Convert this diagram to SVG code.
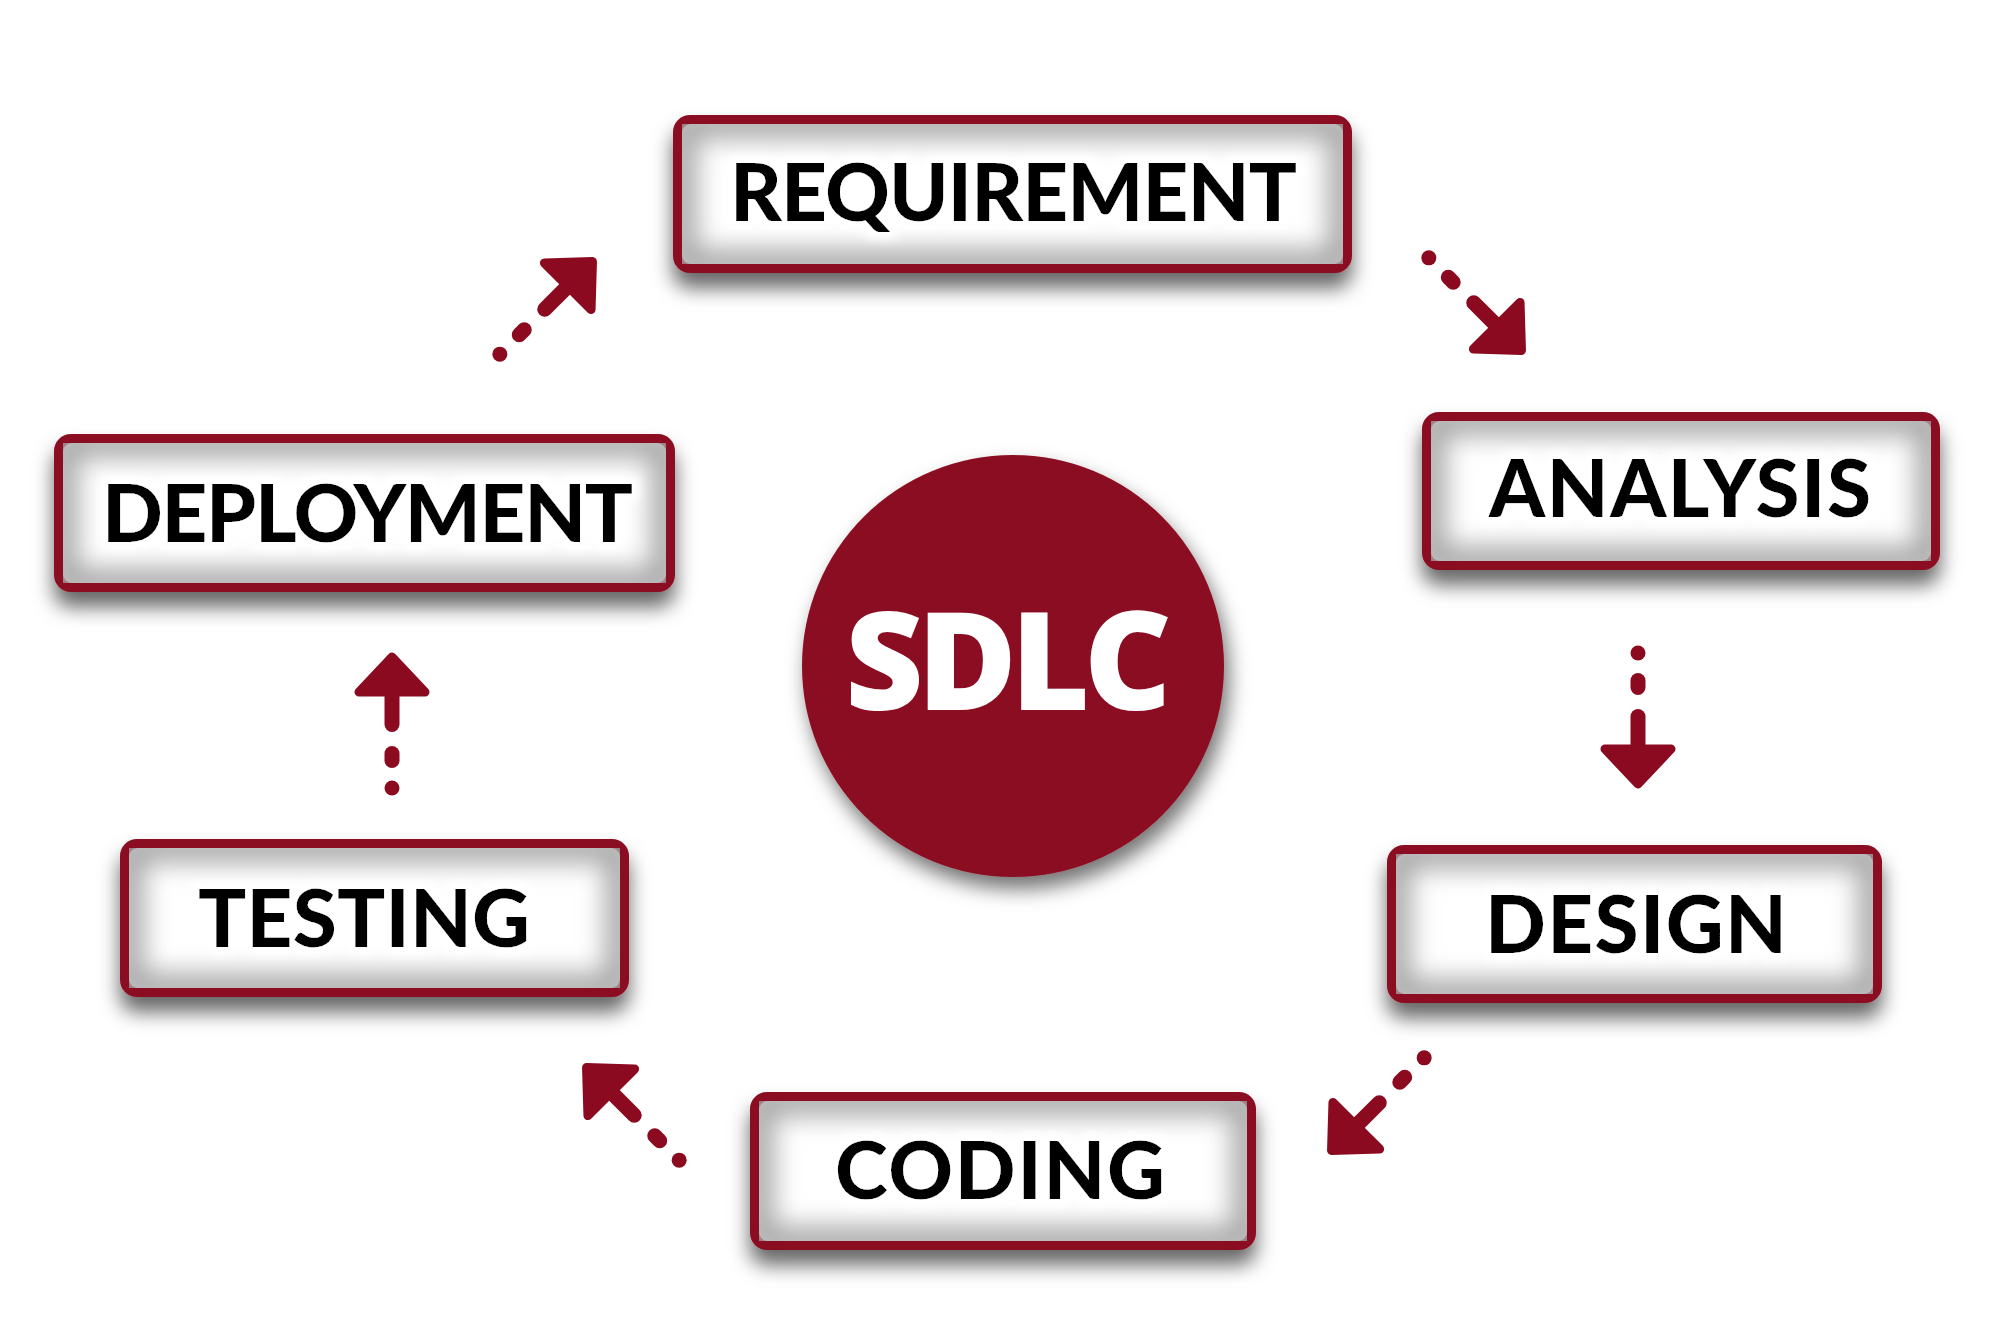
<svg xmlns="http://www.w3.org/2000/svg" xmlns:xlink="http://www.w3.org/1999/xlink" width="2000" height="1331" viewBox="0 0 2000 1331">
  <style>
    .frame { fill: #8B0A20; filter: url(#drop); }
    .inner { fill: #ffffff; }
    .glow { fill: none; stroke: #a8a8a8; stroke-width: 30; filter: url(#soft); clip-path: url(#bbclip); }
    .label { font-family: Lato, "Liberation Sans", sans-serif; font-weight: 900; font-size: 80px; fill: #000; text-anchor: middle; filter: url(#halo); }
    .hub { fill: #8B0A20; filter: url(#cdrop); }
    .hubtext { font-family: "Open Sans", "Liberation Sans", sans-serif; font-weight: 800; font-size: 136px; fill: #fff; text-anchor: middle; }
    .arrow { fill: #8B0A20; stroke: #8B0A20; }
    .seg { stroke-width: 15; stroke-linecap: round; fill: none; }
    .head { stroke-width: 9; stroke-linejoin: round; }
  </style>
  <defs>
    <clipPath id="bbclip" clipPathUnits="objectBoundingBox">
      <rect x="0" y="0" width="1" height="1"/>
    </clipPath>
    <filter id="soft" x="-10%" y="-25%" width="120%" height="150%">
      <feGaussianBlur stdDeviation="13"/>
    </filter>
    <filter id="drop" x="-10%" y="-20%" width="120%" height="150%">
      <feDropShadow dx="0" dy="15" stdDeviation="10" flood-color="#000" flood-opacity="0.6"/>
    </filter>
    <filter id="cdrop" x="-20%" y="-20%" width="140%" height="145%">
      <feDropShadow dx="5" dy="12" stdDeviation="10" flood-color="#000" flood-opacity="0.55"/>
    </filter>
    <filter id="halo" x="-10%" y="-30%" width="120%" height="160%">
      <feMorphology in="SourceAlpha" operator="dilate" radius="7" result="d"/>
      <feGaussianBlur in="d" stdDeviation="4" result="b"/>
      <feFlood flood-color="#ffffff" result="w"/>
      <feComposite in="w" in2="b" operator="in" result="wb"/>
      <feMerge><feMergeNode in="wb"/><feMergeNode in="SourceGraphic"/></feMerge>
    </filter>
    <g id="arr">
      <circle cx="-136" cy="0" r="7.5" stroke="none"/>
      <line class="seg" x1="-108.5" y1="0" x2="-101.5" y2="0"/>
      <line class="seg" x1="-72.5" y1="0" x2="-38" y2="0"/>
      <path class="head" d="M-5,0 L-40,-33 L-40,33 Z"/>
    </g>
  </defs>

  <rect width="2000" height="1331" fill="#ffffff"/>

  <g id="connectors" class="arrow">
    <use xlink:href="#arr" transform="translate(1525,354) rotate(45)"/>
    <use xlink:href="#arr" transform="translate(1638,789) rotate(90)"/>
    <use xlink:href="#arr" transform="translate(1328,1154) rotate(135)"/>
    <use xlink:href="#arr" transform="translate(583,1064) rotate(225)"/>
    <use xlink:href="#arr" transform="translate(392,652) rotate(270)"/>
    <use xlink:href="#arr" transform="translate(596,258) rotate(315)"/>
  </g>

  <g id="node-sdlc">
    <circle class="hub" cx="1013" cy="666" r="211"/>
    <text class="hubtext" x="1008.5" y="710" textLength="327" lengthAdjust="spacing">SDLC</text>
  </g>

  <g id="node-requirement">
    <rect class="frame" x="673" y="115" width="679" height="158" rx="17"/>
    <rect class="inner" x="682" y="124" width="661" height="140" rx="9"/>
    <rect class="glow" x="682" y="124" width="661" height="140" rx="9"/>
    <text class="label" x="1013.5" y="221" textLength="567" lengthAdjust="spacing">REQUIREMENT</text>
  </g>

  <g id="node-analysis">
    <rect class="frame" x="1422" y="412" width="518" height="158" rx="17"/>
    <rect class="inner" x="1431" y="421" width="500" height="140" rx="9"/>
    <rect class="glow" x="1431" y="421" width="500" height="140" rx="9"/>
    <text class="label" x="1680" y="517" textLength="382" lengthAdjust="spacing">ANALYSIS</text>
  </g>

  <g id="node-design">
    <rect class="frame" x="1387" y="845" width="495" height="158" rx="17"/>
    <rect class="inner" x="1396" y="854" width="477" height="140" rx="9"/>
    <rect class="glow" x="1396" y="854" width="477" height="140" rx="9"/>
    <text class="label" x="1636" y="953" textLength="302" lengthAdjust="spacing">DESIGN</text>
  </g>

  <g id="node-coding">
    <rect class="frame" x="750" y="1092" width="506" height="158" rx="17"/>
    <rect class="inner" x="759" y="1101" width="488" height="140" rx="9"/>
    <rect class="glow" x="759" y="1101" width="488" height="140" rx="9"/>
    <text class="label" x="1000" y="1199" textLength="330" lengthAdjust="spacing">CODING</text>
  </g>

  <g id="node-testing">
    <rect class="frame" x="120" y="839" width="509" height="158" rx="17"/>
    <rect class="inner" x="129" y="848" width="491" height="140" rx="9"/>
    <rect class="glow" x="129" y="848" width="491" height="140" rx="9"/>
    <text class="label" x="364" y="947" textLength="332" lengthAdjust="spacing">TESTING</text>
  </g>

  <g id="node-deployment">
    <rect class="frame" x="54" y="434" width="621" height="158" rx="17"/>
    <rect class="inner" x="63" y="443" width="603" height="140" rx="9"/>
    <rect class="glow" x="63" y="443" width="603" height="140" rx="9"/>
    <text class="label" x="367.5" y="542" textLength="531" lengthAdjust="spacing">DEPLOYMENT</text>
  </g>
</svg>
